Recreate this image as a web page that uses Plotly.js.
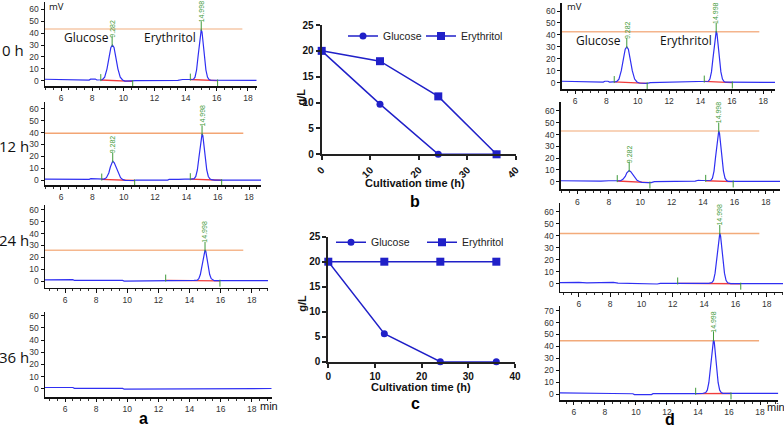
<!DOCTYPE html>
<html><head><meta charset="utf-8">
<script src="https://cdn.plot.ly/plotly-3.0.1.min.js"></script>
<style>html,body{margin:0;padding:0;background:#fff}</style>
</head><body><div id="chart" style="width:784px;height:428px"></div>
<script>
// ---------------- DATA ----------------
// Panel a – HPLC chromatograms (retention time, min / signal, mV)
const a0_t  = [4.97,5.5,6.0,6.5,6.6,7.8,7.9,8.2,8.3,8.55,8.65,8.8,8.95,9.1,9.2,9.3,9.4,9.5,9.65,9.8,9.95,10.1,10.6,10.8,13.5,13.8,14.3,14.5,14.6,14.7,14.8,14.9,14.95,15.0,15.05,15.1,15.2,15.3,15.4,15.5,15.6,16.5,18.56];
const a0_mv = [1.2,1.1,1.0,0.8,0.5,0.5,1.3,1.4,0.6,0.6,0.8,3,10,21,28,30,28,21,10,3,0.6,-0.3,-0.5,0,0.2,1,1,1.2,3,9,21,35,41,43,41,35,21,9,3,1,0.5,0.3,0.3];
const a12_t  = [4.98,6.0,7.5,7.8,7.9,8.2,8.3,8.6,8.75,8.9,9.05,9.15,9.25,9.3,9.4,9.5,9.65,9.8,9.95,10.1,10.6,10.8,12.8,12.9,13.5,13.7,13.9,14.3,14.5,14.6,14.7,14.8,14.9,14.95,15.0,15.05,15.1,15.2,15.3,15.4,15.5,15.6,15.8,18.76];
const a12_mv = [0.8,0.6,0.5,0.6,1.2,1.1,0.5,0.5,0.8,2,6,11,15,16,14.5,11,5.5,2,0.3,-0.3,-0.4,0,0,0.5,0.6,1,0.8,0.8,1.2,3,8.5,19,32,37.5,39,37.5,32,19,8.5,3,1,0.3,0,0];
const a24_t  = [4.71,5.0,5.3,5.5,5.7,6.0,6.2,6.5,6.6,7.7,7.8,8.2,8.3,9.7,9.8,11.8,11.9,14.3,14.5,14.6,14.7,14.8,14.9,14.95,15.0,15.05,15.1,15.2,15.3,15.4,15.5,15.6,19.05];
const a24_mv = [1,1,1.4,1,1.3,1,1.3,1.2,0.5,0.5,1,1,0.5,0.5,0,0,0.4,0.5,0.8,2,5.5,13,21,25,26,25,21,13,5.5,2,0.8,0.3,0.3];
const a36_t  = [4.71,5.0,5.1,5.2,5.5,5.55,5.65,6.5,6.6,7.7,7.8,8.3,8.4,9.7,9.8,11.4,11.5,19.28];
const a36_mv = [1,1,1.6,1,1,1.6,1,1,0.3,0.3,0.9,0.9,0.3,0.3,-0.4,-0.4,0.2,0.2];
// Panel d – chromatograms
const d0_t  = [5.15,6.5,6.6,7.8,7.9,8.1,8.2,8.55,8.65,8.8,8.95,9.1,9.2,9.3,9.4,9.5,9.65,9.8,9.95,10.1,10.6,10.8,14.0,14.3,14.5,14.6,14.7,14.8,14.9,14.95,15.0,15.05,15.1,15.2,15.3,15.4,15.5,15.6,18.75];
const d0_mv = [1.2,1,0.4,0.5,1.2,1.2,0.5,0.6,0.8,3,10,21,28,30,28,21,10,3,0.6,-0.3,-0.6,0,0.5,1,1.2,3,9,21,35,41,43,41,35,21,9,3,1,0.4,0.3];
const d12_t  = [4.94,6.0,6.5,7.5,8.0,8.6,8.75,8.9,9.05,9.15,9.25,9.3,9.4,9.5,9.65,9.8,9.95,10.1,10.7,10.9,13.5,13.7,13.9,14.3,14.5,14.6,14.7,14.8,14.9,14.95,15.0,15.05,15.1,15.2,15.3,15.4,15.5,15.6,18.9];
const d12_mv = [0.8,0.5,0.3,0.4,0.8,0.6,0.8,2,4.5,7.5,9.3,9.5,8.5,6.5,3.5,1.2,0.2,-0.5,-0.8,0,0.5,1.2,1,0.8,1.2,3,9,21,35,41,43,41,35,21,9,3,1,0.3,0.2];
const d24_t  = [4.79,5.1,5.3,5.5,6.0,6.5,7.5,7.8,8.2,8.5,9.5,9.8,11.0,11.2,14.3,14.5,14.6,14.7,14.8,14.9,14.95,15.0,15.05,15.1,15.2,15.3,15.4,15.5,15.7,19.04];
const d24_mv = [1.2,1.3,0.9,1.2,1.3,1,1,1.5,1.3,0.8,0.6,0,0,0.5,0.5,1.2,3,9,20.5,34,40,42,40,34,20.5,9,3,1,0.3,0.3];
const d36_t  = [5.1,6.5,6.7,7.6,7.8,8.3,8.5,9.8,9.9,11.0,11.1,13.8,14.3,14.5,14.6,14.7,14.8,14.9,14.95,15.0,15.05,15.1,15.2,15.3,15.4,15.5,15.6,16.0,19.18];
const d36_mv = [1,1,0.5,0.5,1,0.8,0.4,0.2,-0.5,-0.5,0.3,0.3,0.4,1.2,3.2,9.5,22,37,43.5,45.5,43.5,37,22,9.5,3.2,1.2,0.5,0.5,0.5];

// peak retention-time labels
const a0_pk_t = [9.28,15.0],  a0_pk_mv = [30,43],  a0_pk_lbl = ['9.282','14.998'];
const a12_pk_t = [9.3,15.0],  a12_pk_mv = [16,39], a12_pk_lbl = ['9.282','14.998'];
const a24_pk_t = [15.0],      a24_pk_mv = [26],    a24_pk_lbl = ['14.998'];
const d0_pk_t = [9.3,15.0],   d0_pk_mv = [30,43],  d0_pk_lbl = ['9.282','14.998'];
const d12_pk_t = [9.3,15.0],  d12_pk_mv = [9.5,43],d12_pk_lbl = ['9.282','14.998'];
const d24_pk_t = [15.0],      d24_pk_mv = [42],    d24_pk_lbl = ['14.998'];
const d36_pk_t = [15.0],      d36_pk_mv = [45.5],  d36_pk_lbl = ['14.998'];

// level lines (mV) and their end time (min)
const a0_level = 43.6, a0_level_end = 17.64;
const a12_level = 39.5, a12_level_end = 17.63;
const a24_level = 26, a24_level_end = 17.46;
const d0_level = 42.7, d0_level_end = 17.75;
const d12_level = 43, d12_level_end = 17.58;
const d24_level = 42, d24_level_end = 17.53;
const d36_level = 44.8, d36_level_end = 17.94;

// integration baselines and their start/end markers
const a0_base_t = [8.55,10.6,null,14.3,16.05],  a0_base_mv = [0.6,-0.5,null,1.0,0.1];
const a0_tick_t = [8.55,14.3,10.6,16.05],       a0_tick_mv = [2.6,3.0,-2.5,-1.9];
const a12_base_t = [8.6,10.7,null,14.25,16.25], a12_base_mv = [0.5,-0.4,null,0.8,-0.2];
const a12_tick_t = [8.6,14.25,10.7,16.25],      a12_tick_mv = [2.5,2.8,-2.4,-2.2];
const a24_base_t = [12.47,15.96],               a24_base_mv = [0.5,0.2];
const a24_tick_t = [12.47,15.96],               a24_tick_mv = [2.5,-1.8];
const d0_base_t = [8.5,10.6,null,14.24,16.03],  d0_base_mv = [0.6,-0.6,null,1.0,0.1];
const d0_tick_t = [8.5,14.24,10.6,16.03],       d0_tick_mv = [2.6,3.0,-2.6,-1.9];
const d12_base_t = [8.54,10.62,null,14.17,15.92],d12_base_mv = [0.6,-0.8,null,0.8,0.1];
const d12_tick_t = [8.54,14.17,10.62,15.92],    d12_tick_mv = [2.6,2.8,-2.8,-1.9];
const d24_base_t = [12.31,16.34],               d24_base_mv = [0.5,0.2];
const d24_tick_t = [12.31,16.34],               d24_tick_mv = [2.5,-1.8];
const d36_base_t = [13.85,16.13],               d36_base_mv = [0.3,0.4];
const d36_tick_t = [13.85,16.13],               d36_tick_mv = [2.3,-1.6];

// Panels b, c – concentrations (g/L) over cultivation time (h)
const hours = [0, 12, 24, 36];
const b_glucose = [20, 9.7, 0, 0];
const b_erythritol = [20, 18, 11.2, 0];
const c_glucose = [20, 5.6, 0, 0];
const c_erythritol = [20, 20, 20, 20];
const seriesNames = ['Glucose', 'Erythritol'];
const timeLabels = ['0 h', '12 h', '24 h', '36 h'];

// ---------------- LAYOUT / STYLE ----------------
const W = 784, H = 428;
const px = v => v / W, py = v => 1 - v / H;
const BLUE = '#2f2ff2', RED = '#f03c3c', GREEN = '#3f9a3a', PBLUE = '#2020c8';
const FONT = 'Liberation Sans, Arial, sans-serif';
const SOFT = 'Open Sans, Noto Sans, sans-serif';

const chroms = [
 {t:a0_t,mv:a0_mv,pkT:a0_pk_t,pkMv:a0_pk_mv,pkL:a0_pk_lbl,lvl:a0_level,lvlEnd:a0_level_end,bT:a0_base_t,bMv:a0_base_mv,tkT:a0_tick_t,tkMv:a0_tick_mv,lc:'#f6c9a8',
  g:{L:45,R:256.7,T:2,B:86,xr:[4.97,18.56],yr:[-4.47,66.3]}},
 {t:a12_t,mv:a12_mv,pkT:a12_pk_t,pkMv:a12_pk_mv,pkL:a12_pk_lbl,lvl:a12_level,lvlEnd:a12_level_end,bT:a12_base_t,bMv:a12_base_mv,tkT:a12_tick_t,tkMv:a12_tick_mv,lc:'#f3a574',
  g:{L:45,R:261,T:102,B:185,xr:[4.98,18.76],yr:[-4.2,65.9]}},
 {t:a24_t,mv:a24_mv,pkT:a24_pk_t,pkMv:a24_pk_mv,pkL:a24_pk_lbl,lvl:a24_level,lvlEnd:a24_level_end,bT:a24_base_t,bMv:a24_base_mv,tkT:a24_tick_t,tkMv:a24_tick_mv,lc:'#f5b78e',
  g:{L:45,R:268,T:205,B:287.7,xr:[4.71,19.05],yr:[-5.6,64]}},
 {t:a36_t,mv:a36_mv,pkT:[],pkMv:[],pkL:[],lvl:null,
  g:{L:45,R:271.7,T:311.7,B:397,xr:[4.71,19.28],yr:[-6.8,63.3]}},
 {t:d0_t,mv:d0_mv,pkT:d0_pk_t,pkMv:d0_pk_mv,pkL:d0_pk_lbl,lvl:d0_level,lvlEnd:d0_level_end,bT:d0_base_t,bMv:d0_base_mv,tkT:d0_tick_t,tkMv:d0_tick_mv,lc:'#f4b48c',
  g:{L:561.7,R:775,T:3,B:89,xr:[5.15,18.75],yr:[-5.3,66.7]}},
 {t:d12_t,mv:d12_mv,pkT:d12_pk_t,pkMv:d12_pk_mv,pkL:d12_pk_lbl,lvl:d12_level,lvlEnd:d12_level_end,bT:d12_base_t,bMv:d12_base_mv,tkT:d12_tick_t,tkMv:d12_tick_mv,lc:'#f6c4a2',
  g:{L:560.7,R:780,T:102,B:189.3,xr:[4.94,18.9],yr:[-6.45,67.6]}},
 {t:d24_t,mv:d24_mv,pkT:d24_pk_t,pkMv:d24_pk_mv,pkL:d24_pk_lbl,lvl:d24_level,lvlEnd:d24_level_end,bT:d24_base_t,bMv:d24_base_mv,tkT:d24_tick_t,tkMv:d24_tick_mv,lc:'#f3ab7a',
  g:{L:560,R:783,T:203.3,B:291.7,xr:[4.79,19.04],yr:[-6.4,67]}},
 {t:d36_t,mv:d36_mv,pkT:d36_pk_t,pkMv:d36_pk_mv,pkL:d36_pk_lbl,lvl:d36_level,lvlEnd:d36_level_end,bT:d36_base_t,bMv:d36_base_mv,tkT:d36_tick_t,tkMv:d36_tick_mv,lc:'#f2aa7a',
  g:{L:560,R:778.3,T:306,B:400,xr:[5.1,19.18],yr:[-5.04,73.9]}},
];

const traces = [];
const layout = {
  width: W, height: H, autosize: false,
  margin: {l:0, r:0, t:0, b:0, pad:0},
  paper_bgcolor: '#fff', plot_bgcolor: 'rgba(0,0,0,0)',
  font: {family: FONT, color: '#000'},
  hovermode: false, showlegend: true,
  annotations: []
};

chroms.forEach((c, i) => {
  const n = i + 1, s = n === 1 ? '' : String(n);
  const xa = 'x' + s, ya = 'y' + s, g = c.g;
  layout['xaxis' + s] = {
    domain: [px(g.L), px(g.R)], range: g.xr, anchor: ya,
    showline: true, linecolor: '#111', linewidth: 1.5, mirror: false,
    ticks: 'outside', ticklen: 3.5, tickwidth: 1, tickcolor: '#111',
    tick0: 0, dtick: 2, showgrid: false, zeroline: false,
    tickfont: {family: FONT, size: 8.5, color: '#333'},
    minor: {dtick: 0.5, ticks: 'outside', ticklen: 2, tickwidth: 1, tickcolor: '#333', showgrid: false},
    fixedrange: true
  };
  layout['yaxis' + s] = {
    domain: [py(g.B), py(g.T)], range: g.yr, anchor: xa,
    showline: true, linecolor: '#111', linewidth: 1.5,
    ticks: 'outside', ticklen: 3, tickwidth: 1, tickcolor: '#111',
    tick0: 0, dtick: 10, showgrid: false, zeroline: false,
    tickfont: {family: FONT, size: 8.5, color: '#333'},
    fixedrange: true
  };
  if (c.lvl !== null) {
    traces.push({type:'scatter', mode:'lines', x:[g.xr[0], c.lvlEnd], y:[c.lvl, c.lvl],
      xaxis:xa, yaxis:ya, line:{color:c.lc, width:1.5}, showlegend:false, hoverinfo:'skip'});
    traces.push({type:'scatter', mode:'lines', x:c.bT, y:c.bMv, connectgaps:false,
      xaxis:xa, yaxis:ya, line:{color:RED, width:1.3}, showlegend:false, hoverinfo:'skip'});
  }
  traces.push({type:'scatter', mode:'lines', x:c.t, y:c.mv, xaxis:xa, yaxis:ya,
    line:{color:BLUE, width:1.2}, showlegend:false, hoverinfo:'skip'});
  if (c.lvl !== null) {
    traces.push({type:'scatter', mode:'markers', x:c.tkT, y:c.tkMv, xaxis:xa, yaxis:ya,
      marker:{symbol:'line-ns-open', size:5, color:GREEN, line:{color:GREEN, width:1}}, showlegend:false, hoverinfo:'skip', cliponaxis:false});
    traces.push({type:'scatter', mode:'markers', x:c.pkT, y:c.pkMv.map(v => v + 3), xaxis:xa, yaxis:ya,
      marker:{symbol:'line-ns-open', size:7, color:GREEN, line:{color:GREEN, width:1}}, showlegend:false, hoverinfo:'skip', cliponaxis:false});
  }
  c.pkL.forEach((lbl, k) => {
    layout.annotations.push({xref:xa, yref:ya, x:c.pkT[k], y:c.pkMv[k] + 5.5, text:lbl,
      textangle:-90, xanchor:'center', yanchor:'bottom', showarrow:false, borderpad:0,
      font:{family:FONT, size:7, color:GREEN}});
  });
});

// Panels b and c
const lineXY = (gl, er, xa, ya, legG, legE) => [
  {type:'scatter', mode:'lines+markers', name:seriesNames[0], x:hours, y:gl, xaxis:xa, yaxis:ya, legend:legG,
   line:{color:PBLUE, width:1.5}, marker:{symbol:'circle', size:7, color:PBLUE}, cliponaxis:false},
  {type:'scatter', mode:'lines+markers', name:seriesNames[1], x:hours, y:er, xaxis:xa, yaxis:ya, legend:legE,
   line:{color:PBLUE, width:1.5}, marker:{symbol:'square', size:8, color:PBLUE}, cliponaxis:false}
];
traces.push(...lineXY(b_glucose, b_erythritol, 'x9', 'y9', 'legend', 'legend2'));
traces.push(...lineXY(c_glucose, c_erythritol, 'x10', 'y10', 'legend3', 'legend4'));

const prismX = (dom, ya, angle) => ({domain:dom, range:[0,40], anchor:ya, dtick:10, tick0:0,
  showline:true, linecolor:'#222', linewidth:2, ticks:'outside', ticklen:4, tickwidth:2, tickcolor:'#222',
  showgrid:false, zeroline:false, tickangle:angle,
  tickfont:{family:FONT, size:10, weight:'bold', color:'#111'}, fixedrange:true});
const prismY = (dom, xa) => ({domain:dom, range:[0,25], anchor:xa, dtick:5, tick0:0,
  showline:true, linecolor:'#222', linewidth:2, ticks:'outside', ticklen:4, tickwidth:2, tickcolor:'#222',
  showgrid:false, zeroline:false,
  tickfont:{family:FONT, size:10, weight:'bold', color:'#111'}, fixedrange:true});
layout.xaxis9 = prismX([px(321.7), px(516)], 'y9', -45);
layout.yaxis9 = prismY([py(154.3), py(25)], 'x9');
layout.xaxis10 = prismX([px(328.3), px(515)], 'y10', 0);
layout.yaxis10 = prismY([py(361.7), py(236.7)], 'x10');

const leg = (x, y) => ({x:px(x), y:py(y), xanchor:'left', yanchor:'middle', orientation:'h',
  bgcolor:'rgba(0,0,0,0)', borderwidth:0, itemclick:false, itemdoubleclick:false,
  font:{family:FONT, size:10.5, color:'#222'}});
layout.legend  = leg(343, 36);
layout.legend2 = leg(421, 36);
layout.legend3 = leg(331, 242.3);
layout.legend4 = leg(422, 242.3);

// ---------------- TEXT ----------------
const note = (x, y, text, font, extra) => layout.annotations.push(Object.assign(
  {xref:'paper', yref:'paper', x:px(x), y:py(y), text, showarrow:false, xanchor:'center', yanchor:'middle', font}, extra || {}));
const hFont = {family:SOFT, size:15, color:'#111'};
note(13, 50, timeLabels[0], hFont);
note(14, 145.7, timeLabels[1], hFont);
note(14, 240, timeLabels[2], hFont);
note(14, 356.7, timeLabels[3], hFont);
const mvFont = {family:SOFT, size:9.5, color:'#111'};
note(56.5, 7, 'mV', mvFont);
note(574, 7, 'mV', mvFont);
const cmpFont = {family:SOFT, size:12, color:'#111'};
note(86.5, 37.7, seriesNames[0], cmpFont);
note(170.3, 37.7, seriesNames[1], cmpFont);
note(598.7, 40.7, seriesNames[0], cmpFont);
note(685.5, 40.7, seriesNames[1], cmpFont);
const minFont = {family:FONT, size:11, color:'#111'};
note(269, 406, 'min', minFont);
note(776, 407, 'min', minFont);
const panelFont = {family:FONT, size:16, weight:'bold', color:'#000'};
note(143.3, 418.5, 'a', panelFont);
note(415, 201, 'b', panelFont);
note(415, 403.5, 'c', panelFont);
note(670, 419, 'd', panelFont);
const axFont = {family:FONT, size:11, weight:'bold', color:'#111'};
note(415, 183, 'Cultivation time (h)', axFont);
note(421, 386.5, 'Cultivation time (h)', axFont);
note(300.5, 97, 'g/L', axFont, {textangle:-90});
note(301.7, 303, 'g/L', axFont, {textangle:-90});

Plotly.newPlot('chart', traces, layout, {staticPlot:true, displayModeBar:false, responsive:false});
</script>
</body></html>
